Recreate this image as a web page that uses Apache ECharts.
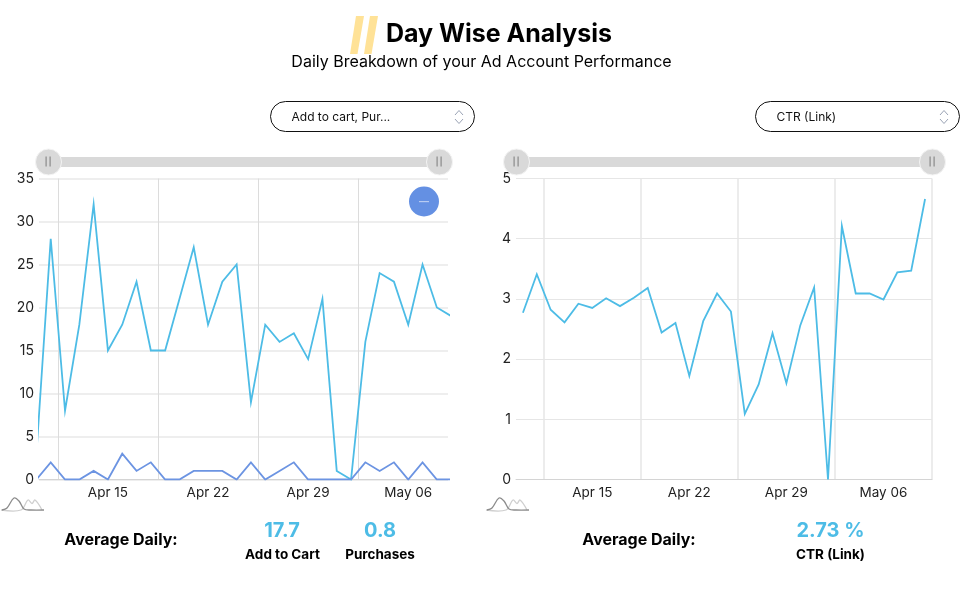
<!DOCTYPE html>
<html>
<head>
<meta charset="utf-8">
<title>Day Wise Analysis</title>
<style>
  html, body { margin: 0; padding: 0; background: #fff; }
  #main { width: 970px; height: 589px; }
</style>
<script src="https://cdn.jsdelivr.net/npm/echarts@6/dist/echarts.min.js"></script>
</head>
<body>
<div id="main"></div>
<script>
// Thirty days, Apr 10 to May 09
const days = ['Apr 10','Apr 11','Apr 12','Apr 13','Apr 14','Apr 15','Apr 16','Apr 17','Apr 18','Apr 19',
  'Apr 20','Apr 21','Apr 22','Apr 23','Apr 24','Apr 25','Apr 26','Apr 27','Apr 28','Apr 29',
  'Apr 30','May 01','May 02','May 03','May 04','May 05','May 06','May 07','May 08','May 09'];
const addToCart = [3,28,8,18,32,15,18,23,15,15,21,27,18,23,25,9,18,16,17,14,21,1,0,16,24,23,18,25,20,19];
const purchases = [0,2,0,0,1,0,3,1,2,0,0,1,1,1,0,2,0,1,2,0,0,0,0,2,1,2,0,2,0,0];
const ctrLink = [2.77,3.41,2.82,2.61,2.92,2.85,3.01,2.88,3.02,3.18,2.44,2.6,1.72,2.63,3.09,2.79,1.09,1.58,2.43,1.6,
  2.56,3.19,0,4.21,3.09,3.09,2.99,3.44,3.47,4.66];
const labelDays = [5, 12, 19, 26];
const weekLines = [1.5, 8.5, 15.5, 22.5, 29.5];

const SKY = '#4dbce6', PERIWINKLE = '#6c94e2';
const FONT = 'Inter, "Noto Sans", sans-serif';
const pairs = vals => vals.map((v, i) => [i, v]);

function xAxis(gridIndex, min, max, lines, splitColor, splitWidth) {
  return {
    type: 'value', gridIndex, min, max,
    axisLine: { show: true, onZero: false, lineStyle: { color: '#d4d4d4', width: 1 } },
    axisTick: { show: false, customValues: lines },
    splitLine: { show: true, lineStyle: { color: splitColor, width: splitWidth } },
    axisLabel: {
      customValues: labelDays, color: '#222', fontFamily: FONT, fontSize: 13.5, margin: 6,
      hideOverlap: false, showMinLabel: true, showMaxLabel: true,
      formatter: v => days[Math.round(v)]
    }
  };
}
function yAxis(gridIndex, max, interval, splitColor, splitWidth) {
  return {
    type: 'value', gridIndex, min: 0, max, interval,
    axisLine: { show: false }, axisTick: { show: false },
    splitLine: { lineStyle: { color: splitColor, width: splitWidth } },
    axisLabel: { color: '#222', fontFamily: FONT, fontSize: 14, margin: 5, padding: [4, 0, 0, 0] }
  };
}
function line(name, data, color, idx) {
  return {
    name, type: 'line', data: pairs(data), xAxisIndex: idx, yAxisIndex: idx,
    showSymbol: false, symbol: 'none', clip: true, animation: false,
    lineStyle: { color, width: 1.8, join: 'miter' }, itemStyle: { color }
  };
}
function slider(idx, left, width) {
  return {
    type: 'slider', xAxisIndex: idx, filterMode: 'none', start: 0, end: 100,
    left, width, top: 157, height: 10, showDetail: false, showDataShadow: false,
    zoomLock: false, brushSelect: false,
    backgroundColor: '#d9d9d9', fillerColor: 'rgba(217,217,217,1)', borderColor: 'transparent',
    handleIcon: 'circle', handleSize: 26,
    handleStyle: { color: '#d9d9d9', borderColor: '#f4f4f4', borderWidth: 1, shadowBlur: 0 },
    moveHandleSize: 0,
    emphasis: { handleStyle: { color: '#d9d9d9', borderColor: '#f4f4f4' } }
  };
}

// Text helpers for the page furniture around the two plots
const txt = (x, y, text, size, weight, fill, align) => ({
  type: 'text', x, y, z: 20, silent: true,
  style: { text, fontFamily: FONT, fontSize: size, fontWeight: weight || 'normal', fill: fill || '#000',
           align: align || 'center', verticalAlign: 'middle' }
});
const slash = x => ({
  type: 'polygon', z: 1, silent: true,
  shape: { points: [[x + 6, 16], [x + 14, 16], [x + 7.5, 54], [x, 54]] },
  style: { fill: '#ffe297' }
});
const pill = (x, label) => [
  { type: 'rect', z: 5, silent: true, shape: { x: x + 0.5, y: 101.5, width: 204, height: 30, r: 15 },
    style: { fill: '#fff', stroke: '#111', lineWidth: 1 } },
  txt(x + 21.5, 117, label, 12, 'normal', '#111', 'left'),
  { type: 'polyline', z: 20, silent: true, shape: { points: [[x + 185, 115], [x + 189, 110.5], [x + 193, 115]] },
    style: { fill: null, stroke: '#9aa3b5', lineWidth: 1 } },
  { type: 'polyline', z: 20, silent: true, shape: { points: [[x + 185, 119], [x + 189, 123.5], [x + 193, 119]] },
    style: { fill: null, stroke: '#9aa3b5', lineWidth: 1 } }
];
const grip = cx => [-2, 2].map(d => ({
  type: 'rect', z: 30, silent: true, shape: { x: cx + d - 0.5, y: 156.5, width: 1.2, height: 10 },
  style: { fill: '#8a8a8a' }
}));
const sparkIcon = x => [
  { type: 'polyline', z: 9, silent: true,
    shape: { smooth: 0.35, points: [[x, 510], [x + 20, 510], [x + 27, 500], [x + 31, 503.5], [x + 34, 500], [x + 41, 510]] },
    style: { fill: null, stroke: '#cfcfcf', lineWidth: 1.3 } },
  { type: 'polyline', z: 10, silent: true,
    shape: { smooth: 0.35, points: [[x + 1, 510], [x + 6, 508], [x + 13, 498], [x + 18, 501], [x + 23, 509], [x + 30, 510], [x + 43, 510]] },
    style: { fill: null, stroke: '#8c8c8c', lineWidth: 1.3 } }
];

const chart = echarts.init(document.getElementById('main'), null, { renderer: 'canvas' });
chart.setOption({
  animation: false,
  backgroundColor: '#fff',
  grid: [
    { left: 39, top: 178.5, width: 409, height: 301 },
    { left: 516, top: 178.5, width: 416, height: 301 }
  ],
  xAxis: [
    xAxis(0, 0.18, 28.78, weekLines.slice(0, 4), '#dcdcdc', 1),
    xAxis(1, -0.5, 29.5, weekLines, '#e6e6e6', 1.5)
  ],
  yAxis: [yAxis(0, 35, 5, '#eeeeee', 2), yAxis(1, 5, 1, '#e6e6e6', 1)],
  dataZoom: [slider(0, 46, 393), slider(1, 514, 418)],
  series: [
    line('Add to Cart', addToCart, SKY, 0),
    line('Purchases', purchases, PERIWINKLE, 0),
    line('CTR (Link)', ctrLink, SKY, 1)
  ],
  graphic: [
    slash(350), slash(364),
    txt(499, 34, 'Day Wise Analysis', 25, 'bold'),
    txt(481.5, 62, 'Daily Breakdown of your Ad Account Performance', 16, 'normal'),
    ...pill(270, 'Add to cart, Pur...'),
    ...pill(755, 'CTR (Link)'),
    ...[48, 439, 516, 932].flatMap(grip),
    { type: 'circle', z: 25, silent: true, shape: { cx: 424, cy: 201.5, r: 15 }, style: { fill: '#6490e3' } },
    { type: 'rect', z: 26, silent: true, shape: { x: 419, y: 201, width: 10, height: 1.2 }, style: { fill: '#b7cbf2' } },
    ...sparkIcon(1), ...sparkIcon(486),
    txt(121, 540, 'Average Daily:', 16, 'bold'),
    txt(282, 531, '17.7', 20, 'bold', SKY),
    txt(282.5, 555, 'Add to Cart', 13.5, 'bold'),
    txt(380, 531, '0.8', 20, 'bold', SKY),
    txt(380, 555, 'Purchases', 13.5, 'bold'),
    txt(639, 540, 'Average Daily:', 16, 'bold'),
    txt(830.5, 531, '2.73 %', 20, 'bold', SKY),
    txt(830.5, 555, 'CTR (Link)', 13.5, 'bold')
  ]
});
</script>
</body>
</html>
